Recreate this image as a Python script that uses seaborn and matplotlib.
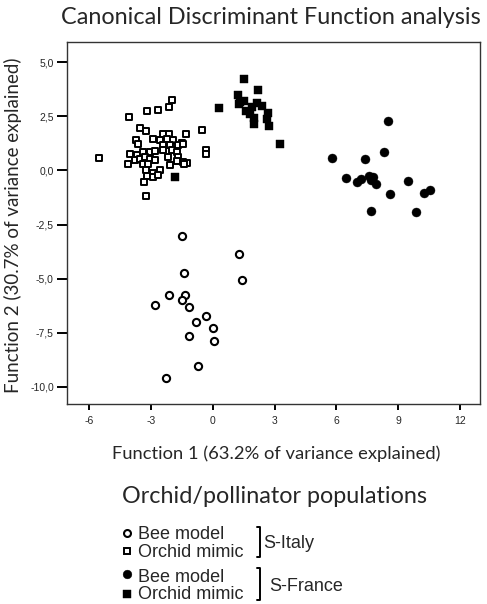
import numpy as np
import pandas as pd
import matplotlib
matplotlib.use("Agg")
import matplotlib.pyplot as plt
import matplotlib.ticker as mticker
from matplotlib.lines import Line2D
import seaborn as sns

# S-Italy bee model (open circles)
italy_bee_x = [-1.49, 1.28, 1.42, -1.39, -2.11, -2.80, -1.33, -1.47, -1.15, -0.34,
               -0.80, 0.03, -1.13, 0.06, -0.70, -2.27]
italy_bee_y = [-3.02, -3.87, -5.05, -4.74, -5.76, -6.23, -5.74, -5.97, -6.31, -6.71,
               -6.98, -7.28, -7.65, -7.86, -9.04, -9.60]

# S-Italy orchid mimic (open squares)
italy_orchid_x = [-5.50, -4.05, -3.20, -2.64, -2.10, -1.98, -3.53, -3.26, -3.72, -3.61,
                  -2.88, -2.40, -2.10, -1.28, -0.50, -0.34, -0.34, -2.56, -2.23, -1.91,
                  -1.50, -2.40, -2.07, -1.67, -1.43, -4.01, -3.69, -3.37, -3.04, -2.80,
                  -2.40, -1.99, -1.75, -4.10, -3.77, -3.53, -3.29, -3.04, -2.80, -2.16,
                  -1.67, -1.43, -3.37, -3.13, -2.07, -1.26, -3.24, -2.88, -2.56, -3.20,
                  -2.88, -2.64, -3.33, -3.24, -1.38, -1.75]
italy_orchid_y = [0.59, 2.45, 2.76, 2.78, 2.93, 3.23, 1.96, 1.82, 1.39, 1.23,
                  1.47, 1.67, 1.70, 1.67, 1.85, 0.93, 0.74, 1.42, 1.47, 1.39,
                  1.26, 1.16, 1.16, 1.16, 1.20, 0.77, 0.69, 0.85, 0.85, 0.89,
                  0.93, 0.96, 0.85, 0.31, 0.50, 0.54, 0.62, 0.54, 0.46, 0.62,
                  0.62, 0.38, 0.31, 0.31, 0.23, 0.34, 0.00, -0.13, 0.03, -0.28,
                  -0.31, -0.20, -0.54, -1.16, 0.31, 0.43]

# S-France bee model (filled circles)
france_bee_x = [8.52, 5.81, 7.37, 8.33, 6.45, 6.99, 7.18, 7.60, 7.77, 7.67,
                7.91, 8.61, 9.50, 10.26, 10.55, 7.66, 9.88]
france_bee_y = [2.30, 0.57, 0.51, 0.86, -0.35, -0.54, -0.39, -0.28, -0.31, -0.46,
                -0.62, -1.10, -0.48, -1.03, -0.89, -1.87, -1.94]

# S-France orchid mimic (filled squares)
france_orchid_x = [1.53, 2.21, 1.24, 0.32, 1.33, 1.53, 1.29, 2.13, 2.38, 1.60,
                   1.81, 2.00, 2.70, 2.62, 2.00, 2.75, 3.27, 1.91, -1.85]
france_orchid_y = [4.21, 3.72, 3.50, 2.88, 3.16, 3.19, 3.06, 3.09, 2.98, 2.75,
                   2.59, 2.44, 2.67, 2.39, 2.13, 2.05, 1.22, 2.93, -0.30]

x_ticks = [-6, -3, 0, 3, 6, 9, 12]
y_ticks = [5.0, 2.5, 0.0, -2.5, -5.0, -7.5, -10.0]

W, H = 487, 604
sns.set_theme(style="white")
plt.rcParams['font.family'] = ['Lato', 'DejaVu Sans']
arial = ['Liberation Sans', 'DejaVu Sans']

fig = plt.figure(figsize=(W / 100, H / 100), dpi=100)
ax = fig.add_axes([67 / W, 1 - 404 / H, (480 - 67) / W, (404 - 42) / H])

groups = [
    (italy_bee_x, italy_bee_y, 'o', 'white', 27, 1.5),
    (italy_orchid_x, italy_orchid_y, 's', 'white', 15, 1.4),
    (france_bee_x, france_bee_y, 'o', 'black', 42, 0.3),
    (france_orchid_x, france_orchid_y, 's', 'black', 29, 0.3),
]
for gx, gy, mk, fc, size, lw in groups:
    df = pd.DataFrame({'f1': gx, 'f2': gy})
    sns.scatterplot(data=df, x='f1', y='f2', ax=ax, marker=mk, s=size,
                    facecolor=fc, edgecolor='black', linewidth=lw, zorder=3)

ax.set_xlim(-7.07, 12.97)
ax.set_ylim(-10.79, 5.93)
ax.set_xticks(x_ticks)
ax.set_yticks(y_ticks)
ax.yaxis.set_major_formatter(mticker.FuncFormatter(lambda v, p: f"{v:.1f}".replace('.', ',')))
ax.xaxis.set_major_formatter(mticker.FuncFormatter(lambda v, p: f"{int(v)}"))
ax.tick_params(axis='x', direction='out', length=4.5, width=1.4, color='black',
               labelsize=7.5, pad=4, bottom=True)
ax.tick_params(axis='y', direction='out', length=7, width=1.4, color='black',
               labelsize=7.5, pad=2.5, left=True)
for lab in ax.get_xticklabels() + ax.get_yticklabels():
    lab.set_family(arial)
for sp in ax.spines.values():
    sp.set_color('#333333')
    sp.set_linewidth(1.0)
ax.set_xlabel('')
ax.set_ylabel('')


def fit_size(txt, size, target, rotation=0):
    # font size at which the text spans `target` pixels
    t = fig.text(0, 0, txt, fontsize=size, rotation=rotation)
    fig.canvas.draw()
    bb = t.get_window_extent()
    span = bb.height if rotation else bb.width
    t.remove()
    return size * target / span


title = 'Canonical Discriminant Function analysis'
big = fit_size(title, 16, 481 - 60)
fig.text((60 + 481) / 2 / W, 1 - 24 / H, title, ha='center', va='baseline', fontsize=big)

xlab = 'Function 1 (63.2% of variance explained)'
ylab = 'Function 2 (30.7% of variance explained)'
lab_size = fit_size(xlab, 12, 440 - 113)
fig.text((113 + 440) / 2 / W, 1 - 459 / H, xlab, ha='center', va='baseline', fontsize=lab_size)
fig.text(12.5 / W, 1 - (58 + 393) / 2 / H, ylab, ha='center', va='center',
         rotation=90, fontsize=fit_size(ylab, 12, 393 - 58, rotation=90))

fig.text(122 / W, 1 - 503 / H, 'Orchid/pollinator populations', ha='left',
         va='baseline', fontsize=big)

# legend entries
legend_rows = [
    (533, 539, 'o', 'white', 'Bee model'),
    (551, 556.7, 's', 'white', 'Orchid mimic'),
    (574, 581.7, 'o', 'black', 'Bee model'),
    (594, 599, 's', 'black', 'Orchid mimic'),
]
for my, by, mk, fc, txt in legend_rows:
    if fc == 'white':
        msize, mew = (5.0, 1.5) if mk == 'o' else (4.3, 1.4)
    else:
        msize, mew = (6.3, 0.3) if mk == 'o' else (5.6, 0.3)
    fig.add_artist(Line2D([126.5 / W], [1 - my / H], marker=mk, markersize=msize,
                          markerfacecolor=fc, markeredgecolor='black',
                          markeredgewidth=mew, linestyle='none',
                          transform=fig.transFigure))
    fig.text(138.5 / W, 1 - by / H, txt, ha='left', va='baseline', fontsize=13,
             family=arial)

for top, bot, tx, by, lab in [(527, 557, 263, 548, 'S-Italy'), (568, 600, 269, 590.7, 'S-France')]:
    bx = 260 / W
    fig.add_artist(Line2D([bx - 3 / W, bx, bx, bx - 3 / W],
                          [1 - top / H, 1 - top / H, 1 - bot / H, 1 - bot / H],
                          color='black', lw=1.4, transform=fig.transFigure))
    fig.text(tx / W, 1 - by / H, lab, ha='left', va='baseline',
             fontsize=13, family=arial)

fig.savefig('out.png', dpi=100)
